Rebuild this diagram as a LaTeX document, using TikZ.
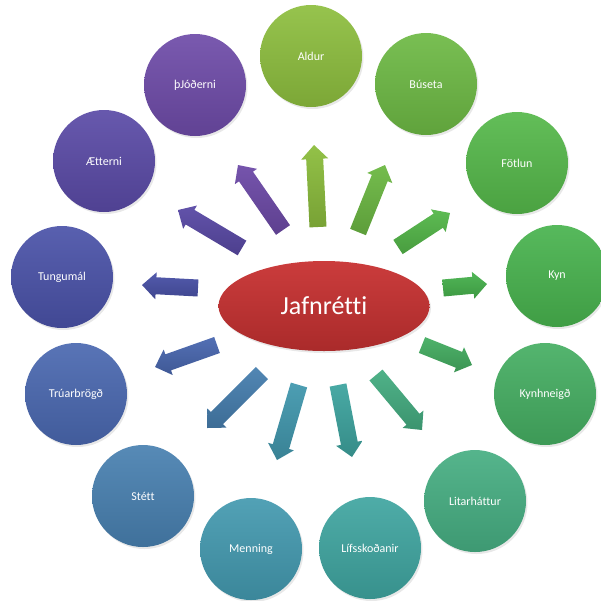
\documentclass[tikz,border=0pt]{standalone}
\usepackage{fontspec}
\setmainfont[Ligatures=NoCommon]{Carlito}
\usetikzlibrary{calc,shadows,shapes.geometric}
\definecolor{cAldur}{HTML}{8DBE3E}
\definecolor{cBuseta}{HTML}{6DB944}
\definecolor{cFotlun}{HTML}{55B84A}
\definecolor{cKyn}{HTML}{48B34E}
\definecolor{cKynh}{HTML}{45AE62}
\definecolor{cLitar}{HTML}{46AE82}
\definecolor{cLifs}{HTML}{3FA5A0}
\definecolor{cMenn}{HTML}{4399AF}
\definecolor{cStett}{HTML}{4880B0}
\definecolor{cTruar}{HTML}{4A68B0}
\definecolor{cTungu}{HTML}{4A52A8}
\definecolor{cAett}{HTML}{5A4AA6}
\definecolor{cThjod}{HTML}{6E4BA8}
\definecolor{cRed}{HTML}{C83232}
\tikzset{
  topic/.style={circle, minimum size=102pt, inner sep=0pt, text=white,
    font=\fontsize{12}{14}\selectfont,
    top color=#1!92!white, bottom color=#1!88!black,
    drop shadow={opacity=0.18, shadow xshift=1.5pt, shadow yshift=-2pt}},
  hub/.style={ellipse, minimum width=211pt, minimum height=90pt, inner sep=0pt, text=white,
    font=\fontsize{26}{30}\selectfont,
    top color=cRed!95!white, bottom color=cRed!85!black,
    drop shadow={opacity=0.18, shadow xshift=1.5pt, shadow yshift=-2pt}}
}
\newcommand\blockarrow[3]{%
  \coordinate (nk) at ($(#2)!14pt!(#1)$);
  \shade[top color=#3!95!white, bottom color=#3!85!black]
    ($(#1)!8.5pt!90:(#2)$) -- ($(nk)!8.5pt!90:(#2)$) -- ($(nk)!13.5pt!90:(#2)$)
    -- (#2) -- ($(nk)!13.5pt!-90:(#2)$) -- ($(nk)!8.5pt!-90:(#2)$)
    -- ($(#1)!8.5pt!-90:(#2)$) -- cycle;
}
\begin{document}
\begin{tikzpicture}[x=1pt,y=-1pt]
\useasboundingbox (0,0) rectangle (601,600);
% topics
\node[topic=cAldur] (aldur) at (311,56) {Aldur};
\node[topic=cBuseta] (buseta) at (426,84) {Búseta};
\node[topic=cFotlun] (fotlun) at (517,163) {Fötlun};
\node[topic=cKyn] (kyn) at (557,276) {Kyn};
\node[topic=cKynh] (kynh) at (545,394) {Kynhneigð};
\node[topic=cLitar] (litar) at (475,501) {Litarháttur};
\node[topic=cLifs] (lifs) at (370,548) {Lífsskoðanir};
\node[topic=cMenn] (menn) at (251,549) {Menning};
\node[topic=cStett] (stett) at (143,496) {Stétt};
\node[topic=cTruar] (truar) at (76,394) {Trúarbrögð};
\node[topic=cTungu] (tungu) at (62,277) {Tungumál};
\node[topic=cAett] (aett) at (104,161) {Ætterni};
\node[topic=cThjod] (thjod) at (195,85) {þJóðerni};
% hub
\node[hub] (hub) at (324,306) {Jafnrétti};
% arrow ends
\coordinate (t1) at (318,227);  \coordinate (h1) at (314,145);
\coordinate (t2) at (358,232);  \coordinate (h2) at (385,165);
\coordinate (t3) at (398,247);  \coordinate (h3) at (450,213);
\coordinate (t4) at (443,288);  \coordinate (h4) at (487,284);
\coordinate (t5) at (422,345);  \coordinate (h5) at (472,365);
\coordinate (t6) at (376,375);  \coordinate (h6) at (422,430);
\coordinate (t7) at (338,385);  \coordinate (h7) at (352,457);
\coordinate (t8) at (299,385);  \coordinate (h8) at (277,460);
\coordinate (t9) at (262,373);  \coordinate (h9) at (207,428);
\coordinate (t10) at (217,345); \coordinate (h10) at (155,367);
\coordinate (t11) at (198,288); \coordinate (h11) at (142,285);
\coordinate (t12) at (242,248); \coordinate (h12) at (178,210);
\coordinate (t13) at (283,230); \coordinate (h13) at (238,165);
\blockarrow{t1}{h1}{cAldur}
\blockarrow{t2}{h2}{cBuseta}
\blockarrow{t3}{h3}{cFotlun}
\blockarrow{t4}{h4}{cKyn}
\blockarrow{t5}{h5}{cKynh}
\blockarrow{t6}{h6}{cLitar}
\blockarrow{t7}{h7}{cLifs}
\blockarrow{t8}{h8}{cMenn}
\blockarrow{t9}{h9}{cStett}
\blockarrow{t10}{h10}{cTruar}
\blockarrow{t11}{h11}{cTungu}
\blockarrow{t12}{h12}{cAett}
\blockarrow{t13}{h13}{cThjod}
\end{tikzpicture}
\end{document}
